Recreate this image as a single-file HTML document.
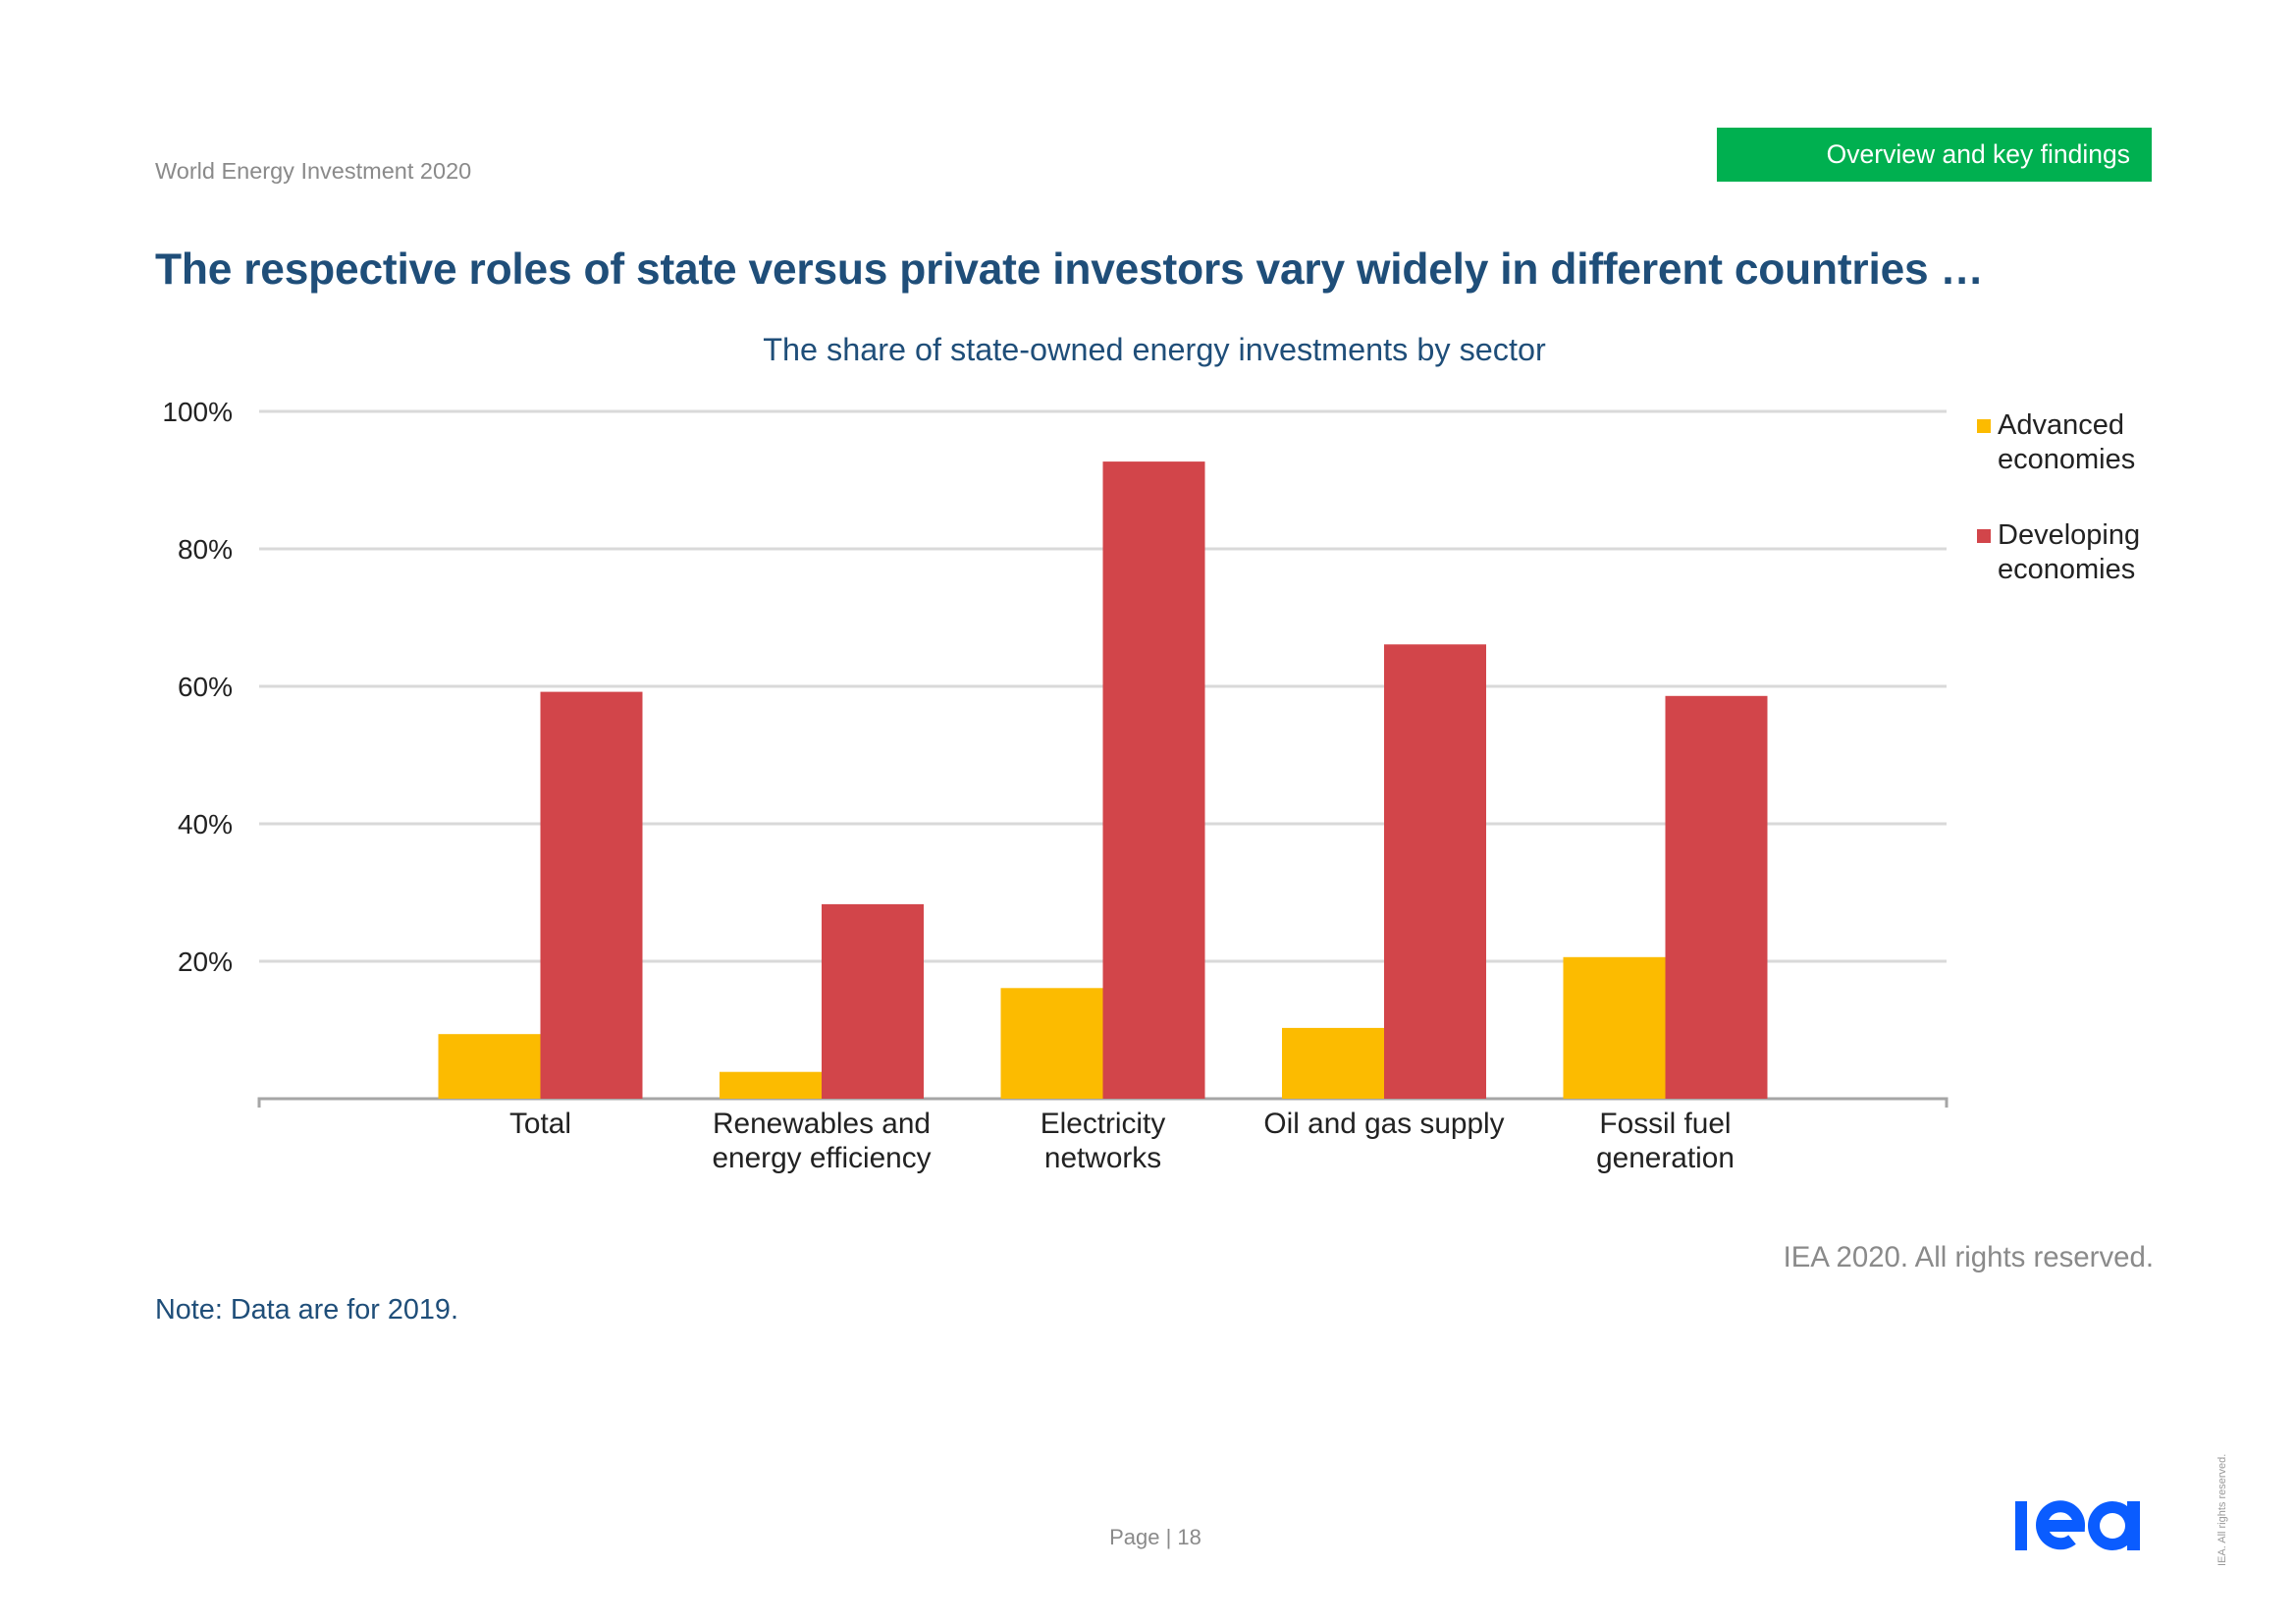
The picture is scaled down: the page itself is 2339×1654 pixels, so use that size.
<!DOCTYPE html>
<html><head><meta charset="utf-8"><style>
body{margin:0;width:2339px;height:1654px;background:#fff;position:relative;overflow:hidden;font-family:"Liberation Sans",sans-serif}
.a{position:absolute;white-space:nowrap}
</style></head><body>
<div class="a" style="left:158px;top:161px;font-size:23.5px;color:#8a8a8a">World Energy Investment 2020</div>
<div class="a" style="left:1749px;top:130px;width:443px;height:55px;background:#00b050;color:#fff;font-size:26.5px;line-height:55px;text-align:right;box-sizing:border-box;padding-right:22px">Overview and key findings</div>
<div class="a" style="left:158px;top:250px;font-size:44.3px;font-weight:bold;color:#1f4e79;letter-spacing:-0.2px">The respective roles of state versus private investors vary widely in different countries …</div>
<div class="a" style="left:0;width:2352px;text-align:center;top:338px;font-size:32.4px;color:#1f4e79">The share of state-owned energy investments by sector</div>
<svg class="a" style="left:0;top:0" width="2339" height="1654">
<g id="grid"></g><g id="bars"></g><g id="labels"></g>
</svg>
<div class="a" style="left:2014px;top:416px;font-size:29px;color:#222;line-height:35px"><span style="position:absolute;left:0;top:11px;width:14px;height:14px;background:#fcbb00"></span><div style="margin-left:21px">Advanced<br>economies</div></div>
<div class="a" style="left:2014px;top:528px;font-size:29px;color:#222;line-height:35px"><span style="position:absolute;left:0;top:11px;width:14px;height:14px;background:#d2454a"></span><div style="margin-left:21px">Developing<br>economies</div></div>
<div class="a" style="right:145px;top:1264px;font-size:29.4px;color:#8a8a8a">IEA 2020. All rights reserved.</div>
<div class="a" style="left:158px;top:1318px;font-size:28.8px;color:#1f4e79">Note: Data are for 2019.</div>
<div class="a" style="left:0;width:2354px;text-align:center;top:1553px;font-size:22px;color:#8a8a8a">Page | 18</div>
<svg class="a" style="left:2053px;top:1528px" width="127" height="52">
<rect x="0" y="1" width="12" height="50" fill="#0a5cff"/>
<path d="M26 26 H65 A19 19 0 1 0 58 40" stroke="#0a5cff" stroke-width="12" fill="none"/>
<circle cx="99" cy="26" r="25" fill="#0a5cff"/><circle cx="99" cy="26" r="13" fill="#fff"/>
<rect x="114" y="1" width="13" height="50" fill="#0a5cff"/>
</svg>
<div class="a" style="left:2258px;top:1595px;font-size:11px;color:#999;transform:rotate(-90deg);transform-origin:0 0">IEA. All rights reserved.</div>
<script>
const categories=[["Total"],["Renewables and","energy efficiency"],["Electricity","networks"],["Oil and gas supply"],["Fossil fuel","generation"]];
const advanced=[9.4,3.9,16.1,10.3,20.6];
const developing=[59.2,28.3,92.7,66.1,58.6];
const ticks=[20,40,60,80,100];
const tickLabels=["20%","40%","60%","80%","100%"];
const NS="http://www.w3.org/2000/svg";
const x0=264,x1=1983,y0=1119,yTop=419;
const band=(x1-x0)/6;
const y=v=>y0-(v/100)*(y0-yTop);
const cx=i=>x0+(i+1)*band;
function mk(t,a,p){const e=document.createElementNS(NS,t);for(const k in a)e.setAttribute(k,a[k]);p.appendChild(e);return e;}
const g=document.getElementById('grid'),b=document.getElementById('bars'),l=document.getElementById('labels');
ticks.forEach((t,i)=>{
 const ln=mk('line',{x1:x0,x2:x1,y1:y(t),y2:y(t),stroke:'#d9d9d9','stroke-width':3},g);
 
 
 const tx=mk('text',{x:237,y:y(t)+10,'text-anchor':'end','font-size':28,fill:'#222'},l);
 tx.textContent=tickLabels[i];
 
 
});
const ax=mk('path',{d:`M${x0} ${y0+9}V${y0}H${x1}V${y0+9}`,stroke:'#a6a6a6','stroke-width':3,fill:'none'},g);


const bw=104;
categories.forEach((c,i)=>{
 const r1=mk('rect',{x:cx(i)-bw,y:y(advanced[i]),width:bw,height:y0-y(advanced[i]),fill:'#fcbb00'},b);
 
 
 const r2=mk('rect',{x:cx(i),y:y(developing[i]),width:bw,height:y0-y(developing[i]),fill:'#d2454a'},b);
 
 
 c.forEach((s,j)=>{
  const t=mk('text',{x:cx(i),y:1154+j*35,'text-anchor':'middle','font-size':29.8,fill:'#222'},l);
  t.textContent=s;
  
  
 });
});
</script>
</body></html>
